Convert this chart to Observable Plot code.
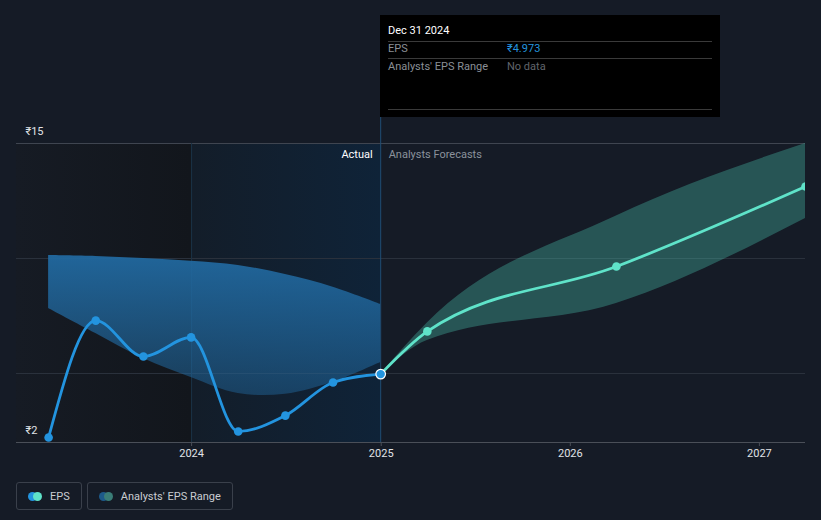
<!DOCTYPE html>
<html>
<head>
<meta charset="utf-8">
<script src="https://cdn.jsdelivr.net/npm/d3@7"></script>
<script src="https://cdn.jsdelivr.net/npm/@observablehq/plot@0.6"></script>
<style>
  html, body { margin: 0; padding: 0; background: #151b26; }
  body { width: 821px; height: 520px; position: relative; overflow: hidden; font-family: Roboto, "Open Sans", sans-serif; }
  #chart svg { display: block; }
  #tip { position: absolute; left: 380px; top: 15px; width: 340px; height: 102px; background: #000; font-size: 11px; }
  #tip .hd { position: absolute; left: 8px; top: 9px; color: #fff; }
  #tip .ln { position: absolute; left: 8px; right: 8px; height: 1px; background: #3a3a3a; }
  #tip .lb { position: absolute; left: 8px; color: #8a8f96; }
  #tip .vl { position: absolute; left: 127px; }
  #legend { position: absolute; left: 16px; top: 482px; display: flex; gap: 5px; }
  .item { display: flex; align-items: center; height: 26px; border: 1px solid #3a404b; border-radius: 3px; padding: 0 11px 0 11px; color: #c9ccd1; font-size: 11px; }
  .sw { position: relative; width: 14px; height: 9px; margin-right: 8px; }
  .sw span { position: absolute; top: 0; width: 9px; height: 9px; border-radius: 50%; }
</style>
</head>
<body>
<div id="chart"></div>
<div id="tip">
  <div class="hd">Dec 31 2024</div>
  <div class="ln" style="top:26px"></div>
  <div class="lb" style="top:27px">EPS</div>
  <div class="vl" style="top:27px;color:#2394df;">₹4.973</div>
  <div class="ln" style="top:43px"></div>
  <div class="lb" style="top:45px">Analysts' EPS Range</div>
  <div class="vl" style="top:45px;color:#60656c;">No data</div>
  <div class="ln" style="top:94px"></div>
</div>
<div id="legend">
  <div class="item"><div class="sw"><span style="left:0;background:#2394df"></span><span style="left:5px;background:#5fe3c9"></span></div>EPS</div>
  <div class="item"><div class="sw"><span style="left:0;background:#1d5a8a"></span><span style="left:5px;background:#3a7d77"></span></div>Analysts' EPS Range</div>
</div>
<script>
// ---- data ----
const actualDates = ["2023-03-31","2023-06-30","2023-09-30","2023-12-31","2024-03-31","2024-06-30","2024-09-30","2024-12-31"];
const actualEps   = [2.22, 7.30, 5.74, 6.57, 2.48, 3.17, 4.61, 4.973];
const actualHigh  = [10.13, 10.09, 10.0, 9.88, 9.70, 9.30, 8.75, 8.00];
const actualLow   = [7.83, 6.74, 5.65, 4.83, 4.13, 4.10, 4.62, 5.48];

const forecastDates = ["2024-12-31","2025-03-31","2026-03-31","2027-03-31"];
const forecastEps   = [4.973, 6.83, 9.65, 13.13];
const forecastHigh  = [4.973, 7.20, 11.85, 15.0];
const forecastLow   = [4.973, 6.43, 8.04, 11.74];

const yearTicks = ["2024-01-01","2025-01-01","2026-01-01","2027-01-01"];
const yLabels = [2, 15];
const yGrid = [5, 10, 15];
const xStart = "2023-01-28", xEnd = "2027-03-31";
const nowDate = "2024-12-31", highlightStart = "2024-01-01";

const P = s => new Date(s + "T00:00:00Z");
const actual = actualDates.map((d, i) => ({date: P(d), eps: actualEps[i], hi: actualHigh[i], lo: actualLow[i]}));
const forecast = forecastDates.map((d, i) => ({date: P(d), eps: forecastEps[i], hi: forecastHigh[i], lo: forecastLow[i]}));

const defs = () => {
  const g = d3.create("svg:defs");
  g.html(`
    <linearGradient id="gLeft" x1="0" x2="1" y1="0" y2="0">
      <stop offset="0" stop-color="#161b24"/>
      <stop offset="1" stop-color="#12161c"/>
    </linearGradient>
    <linearGradient id="gHi" x1="0" x2="1" y1="0" y2="0">
      <stop offset="0" stop-color="#131d29"/>
      <stop offset="1" stop-color="#0f2338"/>
    </linearGradient>
    <linearGradient id="gBand" x1="0" x2="0" y1="0" y2="1">
      <stop offset="0" stop-color="#2169a0" stop-opacity="0.95"/>
      <stop offset="1" stop-color="#2169a0" stop-opacity="0.45"/>
    </linearGradient>`);
  return g.node();
};

const chart = Plot.plot({
  width: 821,
  height: 470,
  marginLeft: 16,
  marginRight: 16,
  marginTop: 143,
  marginBottom: 28,
  style: {background: "#151b26", fontFamily: "Roboto, 'Open Sans', sans-serif", fontSize: "11px", overflow: "visible"},
  x: {type: "utc", domain: [P(xStart), P(xEnd)]},
  y: {domain: [2, 15], axis: null},
  marks: [
    defs,
    Plot.rect([0], {x1: P(xStart), x2: P(highlightStart), y1: 2, y2: 15, fill: "url(#gLeft)"}),
    Plot.rect([0], {x1: P(highlightStart), x2: P(nowDate), y1: 2, y2: 15, fill: "url(#gHi)"}),
    Plot.gridY(yGrid.slice(0, 2), {stroke: "#2a313c", strokeOpacity: 1}),
    Plot.gridY([15], {stroke: "#3f4550", strokeOpacity: 1}),
    Plot.ruleX([P(highlightStart)], {stroke: "#1b3346", strokeWidth: 1}),
    Plot.areaY(actual, {x: "date", y1: "lo", y2: "hi", curve: "catmull-rom", fill: "url(#gBand)"}),
    Plot.areaY(forecast, {x: "date", y1: "lo", y2: "hi", curve: "monotone-x", fill: "#4bc2b0", fillOpacity: 0.35, clip: true}),
    Plot.ruleX([P(nowDate)], {stroke: "#1f4e75", strokeWidth: 1, insetTop: -26}),
    Plot.ruleY([2], {stroke: "#4a4f58"}),
    Plot.axisX({ticks: yearTicks.map(P), tickFormat: "%Y", tickSize: 4, tickPadding: 3, stroke: "#4a4f58", color: "#e0e3e7", fontSize: 11}),
    Plot.text(yLabels, {y: d => d, frameAnchor: "left", dx: 9, dy: -12, textAnchor: "start", text: d => "₹" + d, fill: "#e0e3e7", fontSize: 11}),
    Plot.line(forecast, {x: "date", y: "eps", curve: "monotone-x", stroke: "#5fe3c9", strokeWidth: 2.8, clip: true}),
    Plot.dot(forecast.slice(1), {x: "date", y: "eps", r: 4.3, fill: "#5fe3c9", clip: true}),
    Plot.line(actual, {x: "date", y: "eps", curve: "monotone-x", stroke: "#2394df", strokeWidth: 2.8}),
    Plot.dot(actual.slice(0, -1), {x: "date", y: "eps", r: 4.3, fill: "#2394df"}),
    Plot.dot(actual.slice(-1), {x: "date", y: "eps", r: 4.8, fill: "#2394df", stroke: "#fff", strokeWidth: 1.2}),
    Plot.text(["Actual"], {x: P(nowDate), frameAnchor: "top", lineAnchor: "middle", dx: -8, dy: 11, textAnchor: "end", fill: "#ffffff", fontSize: 11}),
    Plot.text(["Analysts Forecasts"], {x: P(nowDate), frameAnchor: "top", lineAnchor: "middle", dx: 8, dy: 11, textAnchor: "start", fill: "#8b929c", fontSize: 11})
  ]
});
document.getElementById("chart").appendChild(chart);
</script>
</body>
</html>
